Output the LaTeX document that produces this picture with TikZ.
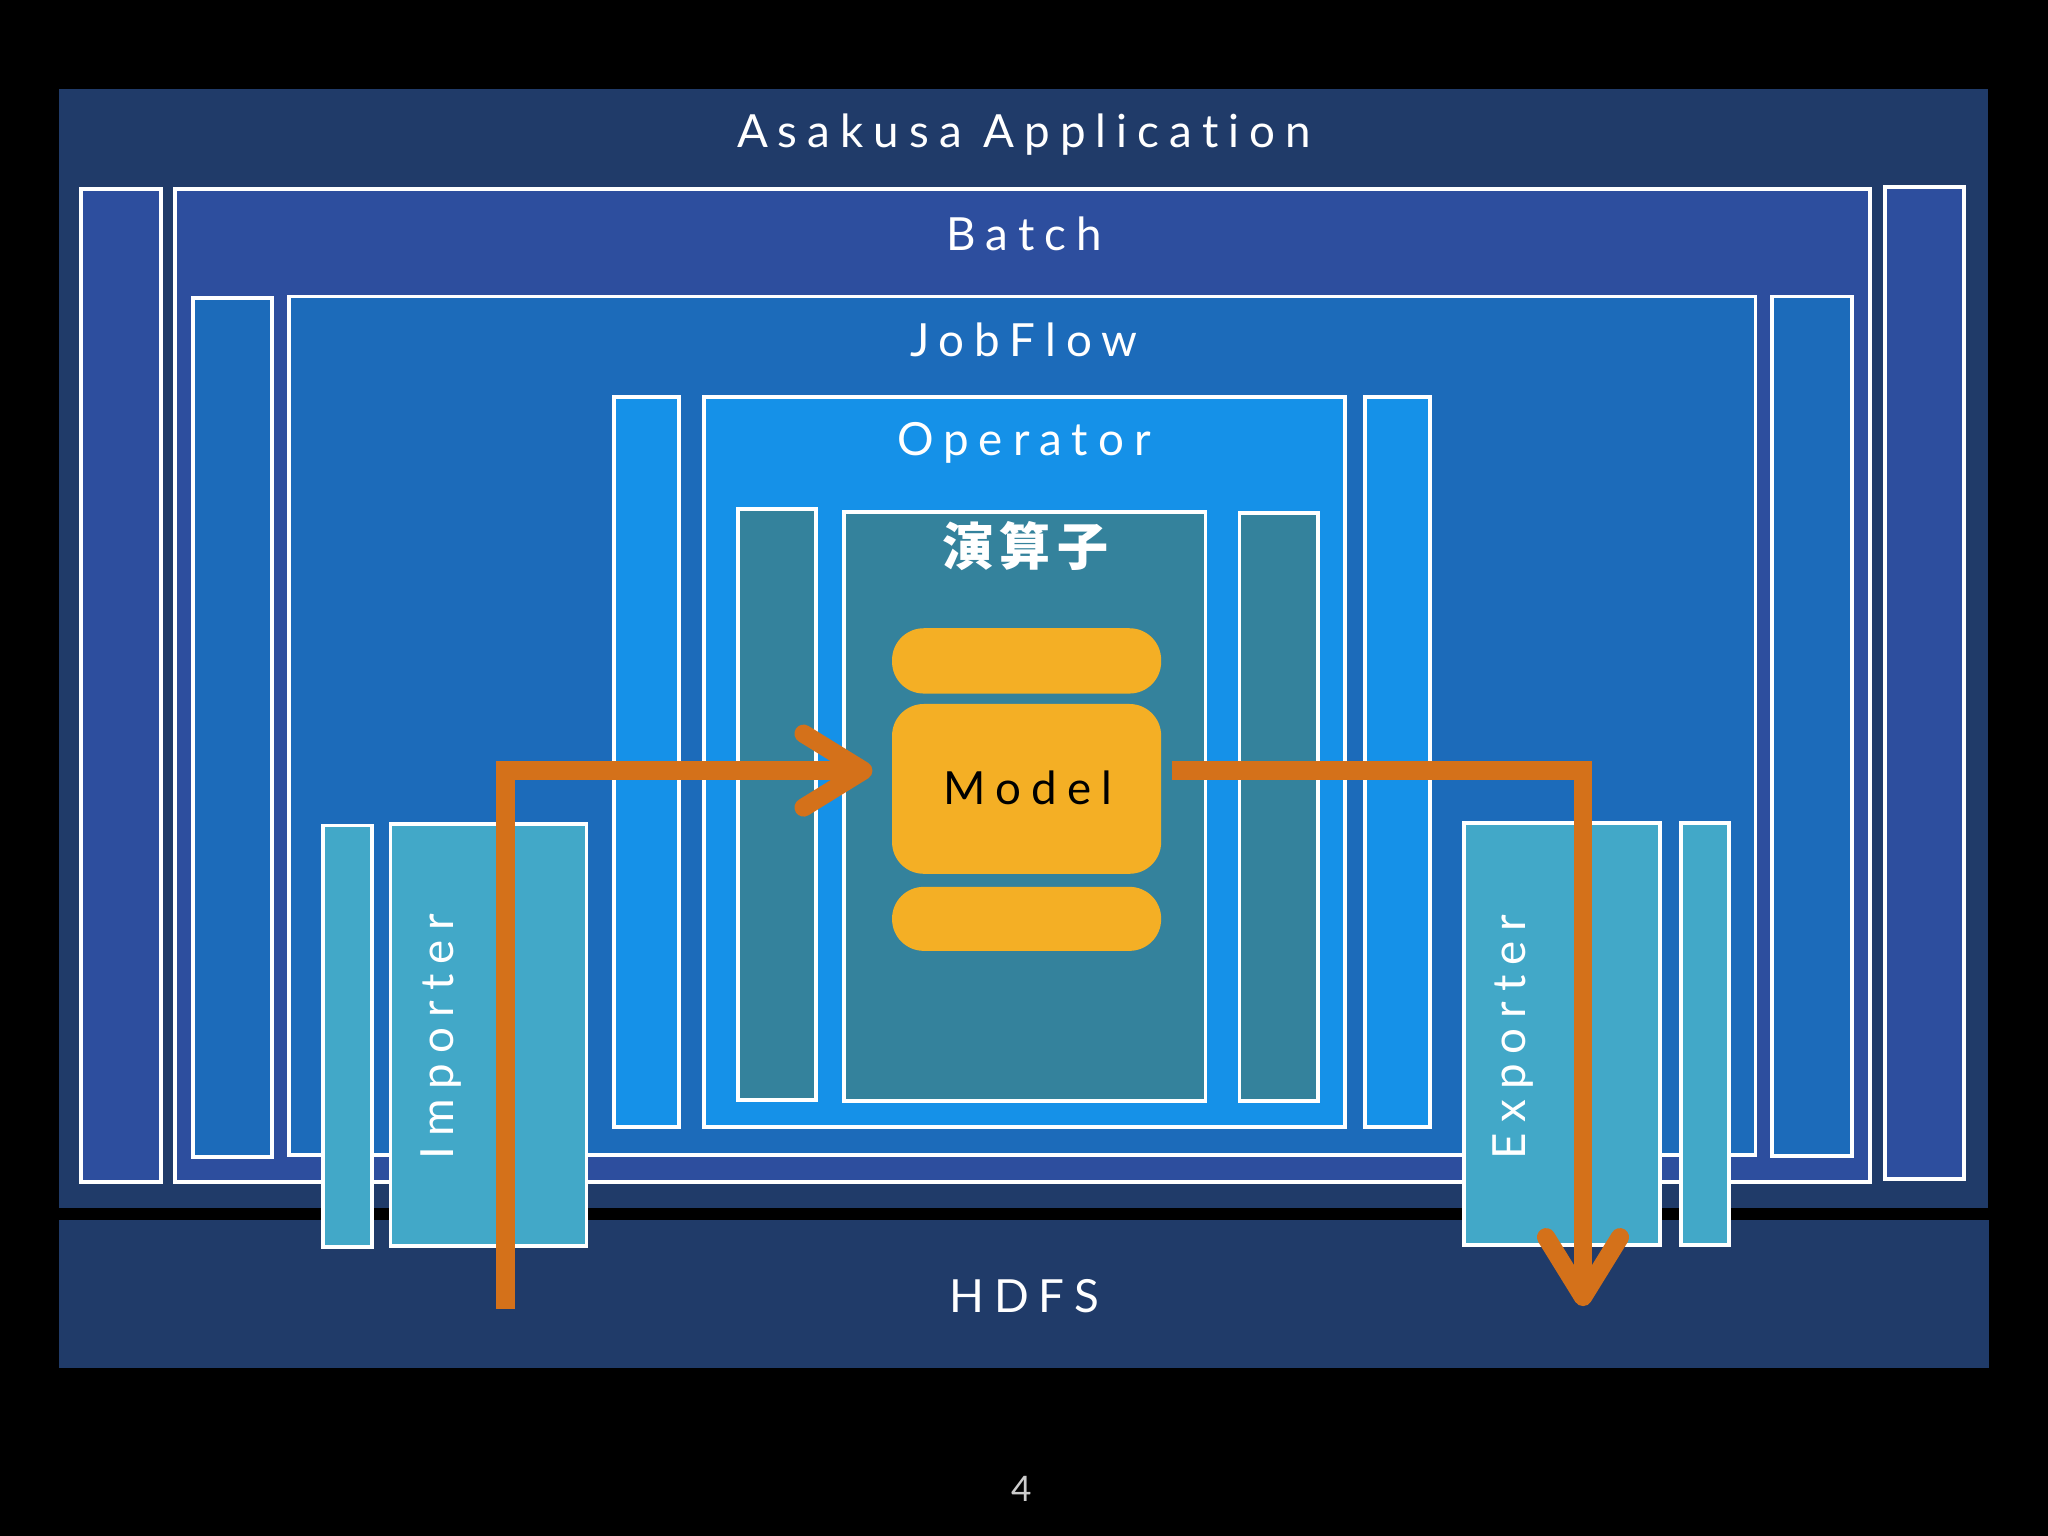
\documentclass[tikz,border=0pt]{standalone}
\usepackage{fontspec}
\setmainfont{Lato}
\newfontfamily\spaced{Lato}[LetterSpace=22,Ligatures=NoCommon]
\newfontfamily\cjk{Noto Sans CJK JP}[LetterSpace=13]
\usetikzlibrary{arrows.meta}
\definecolor{navyc}{HTML}{203B69}
\definecolor{batchc}{HTML}{2D4E9E}
\definecolor{jobc}{HTML}{1C6BBA}
\definecolor{opc}{HTML}{1591E8}
\definecolor{enzc}{HTML}{34829C}
\definecolor{ioc}{HTML}{42A8C8}
\definecolor{modelc}{HTML}{F4AF25}
\definecolor{flowc}{HTML}{D4711A}
\begin{document}
\begin{tikzpicture}[x=0.013061cm,y=-0.013061cm,
    box/.style={draw=white,line width=1.1pt},
    title/.style={text=white,font=\spaced\fontsize{13}{15}\selectfont,anchor=base,inner sep=0pt},
    flow/.style={draw=flowc,line width=5.2pt,-{Straight Barb[length=17pt,width=21pt,round]}}]
        \fill[black](0,0)rectangle(1568,1176);
        \useasboundingbox(0,0)rectangle(1568,1176);
        \fill[navyc](45,68)rectangle(1522,925);
        \fill[navyc](45,934)rectangle(1523,1047);
        \node[title](app)at(784,113){Asakusa Application};
        \node[title](hdfs)at(784,1005){HDFS};
        \draw[box,fill=batchc](62,145)rectangle(123,905);
        \draw[box,fill=batchc](134,145)rectangle(1432,905);
        \draw[box,fill=batchc](1443,143)rectangle(1504,903);
        \node[title](batch)at(784,192){Batch};
        \draw[box,fill=jobc](148,228)rectangle(208,886);
        \draw[box,fill=jobc](221,227)rectangle(1344,884);
        \draw[box,fill=jobc](1357,227)rectangle(1418,885);
        \node[title](jobflow)at(784,273){JobFlow};
        \draw[box,fill=opc](470,304)rectangle(520,863);
        \draw[box,fill=opc](539,304)rectangle(1030,863);
        \draw[box,fill=opc](1045,304)rectangle(1095,863);
        \node[title](operator)at(784,349){Operator};
        \draw[box,fill=enzc](565,390)rectangle(625,842);
        \draw[box,fill=enzc](646,392)rectangle(923,843);
        \draw[box,fill=enzc](949,393)rectangle(1009,843);
        \node[text=white,font=\cjk\bfseries\fontsize{14.5}{16}\selectfont](enzan)at(785,418){演算子};
        \fill[modelc,rounded corners=9pt](683,481)rectangle(889,531);
        \fill[modelc,rounded corners=9pt](683,539)rectangle(889,669);
        \fill[modelc,rounded corners=9pt](683,679)rectangle(889,728);
        \node[title,text=black](model)at(787,616){Model};
        \draw[box,fill=ioc](247,632)rectangle(285,955);
        \draw[box,fill=ioc](299,631)rectangle(449,954);
        \node[title,rotate=90,anchor=base west](importer)at(347,888){Importer};
        \draw[box,fill=ioc](1121,630)rectangle(1271,953);
        \draw[box,fill=ioc](1287,630)rectangle(1324,953);
        \node[title,rotate=90,anchor=base west](exporter)at(1168,888){Exporter};
        \coordinate(insrc)at(387,1002);
        \coordinate(intip)at(668,590);
        \coordinate(outsrc)at(897,590);
        \coordinate(outtip)at(1212,1000);
        \draw[flow](insrc)|-(intip);
        \draw[flow](outsrc)-|(outtip);
        \node[text=white!80!black,font=\fontsize{10}{12}\selectfont](page)at(782,1140){4};
    \end{tikzpicture}
\end{document}
